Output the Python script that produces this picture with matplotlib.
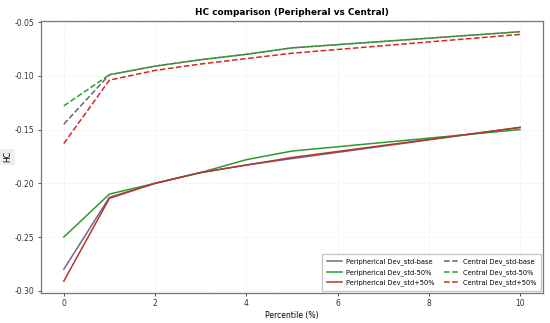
import matplotlib
matplotlib.use("Agg")
import matplotlib.pyplot as plt

percentiles = [0, 1, 2, 3, 4, 5, 10]

peri_base = [-0.280, -0.213, -0.200, -0.190, -0.183, -0.177, -0.148]
peri_minus = [-0.250, -0.210, -0.200, -0.190, -0.178, -0.170, -0.150]
peri_plus = [-0.291, -0.214, -0.200, -0.190, -0.183, -0.176, -0.148]

cent_base = [-0.145, -0.099, -0.091, -0.085, -0.080, -0.074, -0.059]
cent_minus = [-0.128, -0.099, -0.091, -0.085, -0.080, -0.074, -0.059]
cent_plus = [-0.163, -0.104, -0.095, -0.089, -0.084, -0.079, -0.0615]

labels_peri = ["Peripherical Dev_std-base", "Peripherical Dev_std-50%", "Peripherical Dev_std+50%"]
labels_cent = ["Central Dev_std-base", "Central Dev_std-50%", "Central Dev_std+50%"]

fig = plt.figure(figsize=(5.5, 3.23), dpi=100)
ax = fig.add_axes([0.0745, 0.093, 0.9125, 0.842])

ax.plot(percentiles, peri_base, color="#6b6a8c", lw=1.1, label=labels_peri[0])
ax.plot(percentiles, peri_minus, color="#2e9a2e", lw=1.1, label=labels_peri[1])
ax.plot(percentiles, peri_plus, color="#b8342e", lw=1.1, label=labels_peri[2])
ax.plot(percentiles, cent_base, color="#666666", lw=1.1, ls="--", label=labels_cent[0])
ax.plot(percentiles, cent_minus, color="#2ca02c", lw=1.1, ls="--", label=labels_cent[1])
ax.plot(percentiles, cent_plus, color="#d62728", lw=1.1, ls="--", label=labels_cent[2])

ax.set_xlim(-0.5, 10.5)
ax.set_ylim(-0.302, -0.049)
ax.set_xticks([0, 2, 4, 6, 8, 10])
ax.set_yticks([-0.30, -0.25, -0.20, -0.15, -0.10, -0.05])
ax.yaxis.set_major_formatter(matplotlib.ticker.FormatStrFormatter("%.2f"))
ax.tick_params(labelsize=5.5, length=2.5, width=0.6, colors="#333333", pad=2)
ax.grid(True, color="#e6e6e6", lw=0.6, ls=":")
for s in ax.spines.values():
    s.set_color("#777777")
    s.set_linewidth(0.9)

ax.set_title("HC comparison (Peripheral vs Central)", fontsize=6.4, fontweight="bold", pad=4)
ax.set_xlabel("Percentile (%)", fontsize=5.5, labelpad=2)
ax.set_ylabel("HC", fontsize=5.5, labelpad=2,
              bbox=dict(facecolor="#eeeeee", edgecolor="none", pad=2))

ax.legend(loc="lower right", ncol=2, fontsize=4.8, frameon=True, handlelength=2.2,
          handletextpad=0.6, borderpad=0.7, labelspacing=0.55, columnspacing=1.5,
          borderaxespad=0.3, fancybox=False, edgecolor="#bbbbbb")

fig.savefig("out.png", dpi=100)
